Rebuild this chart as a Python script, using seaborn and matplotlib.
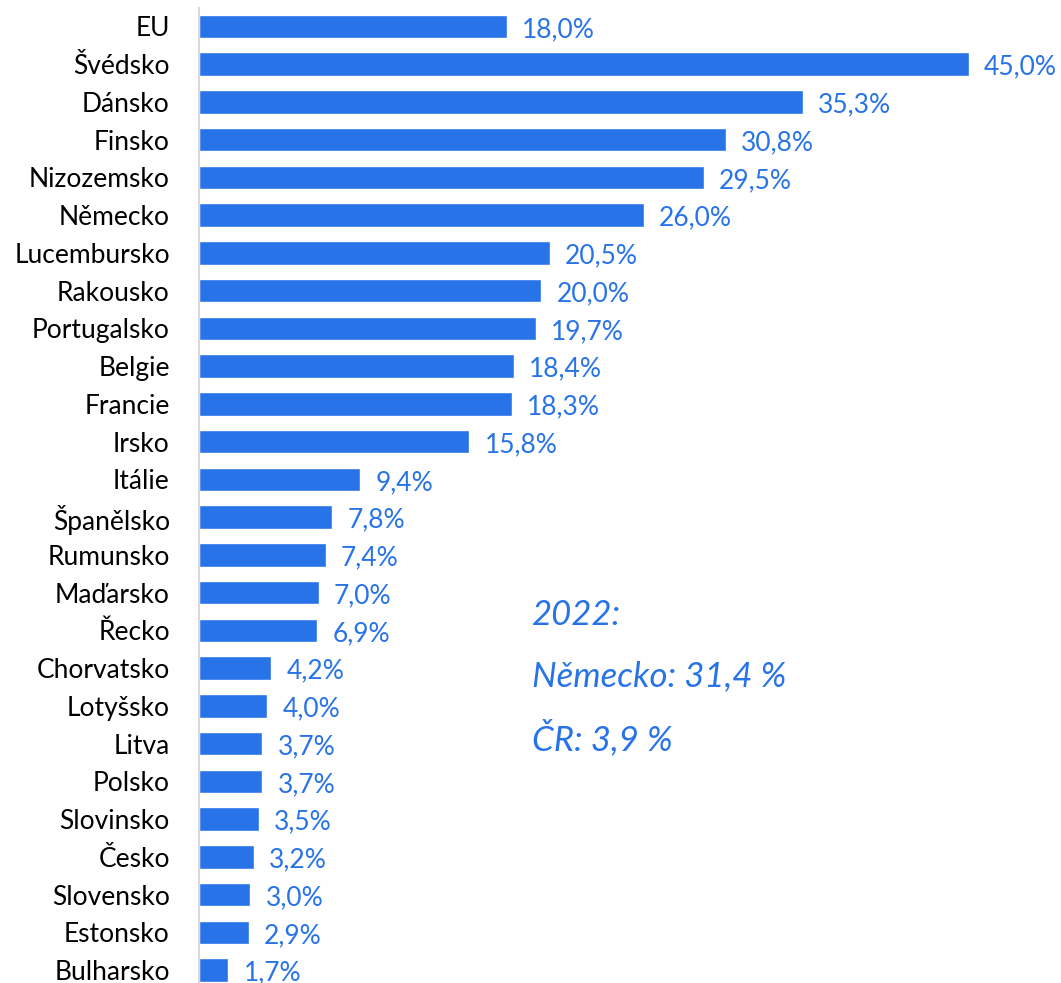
import matplotlib
matplotlib.use('Agg')
import matplotlib.pyplot as plt
import seaborn as sns
import pandas as pd

# data
countries = ['EU', 'Švédsko', 'Dánsko', 'Finsko', 'Nizozemsko', 'Německo', 'Lucembursko',
             'Rakousko', 'Portugalsko', 'Belgie', 'Francie', 'Irsko', 'Itálie', 'Španělsko',
             'Rumunsko', 'Maďarsko', 'Řecko', 'Chorvatsko', 'Lotyšsko', 'Litva', 'Polsko',
             'Slovinsko', 'Česko', 'Slovensko', 'Estonsko', 'Bulharsko']
shares = [18.0, 45.0, 35.3, 30.8, 29.5, 26.0, 20.5, 20.0, 19.7, 18.4, 18.3, 15.8, 9.4,
          7.8, 7.4, 7.0, 6.9, 4.2, 4.0, 3.7, 3.7, 3.5, 3.2, 3.0, 2.9, 1.7]
note_lines = ['2022:', 'Německo: 31,4 %', 'ČR: 3,9 %']

blue = '#2873E8'
df = pd.DataFrame({'country': countries, 'share': shares})

sns.set_style('white')
plt.rcParams['font.family'] = ['Lato', 'DejaVu Sans']

fig = plt.figure(figsize=(10.61, 9.83), dpi=100)
ax = fig.add_axes([199 / 1061, 0, (1061 - 199) / 1061, 1])

sns.barplot(data=df, x='share', y='country', color=blue, width=0.62,
            saturation=1, ax=ax)

ax.set_xlim(0, 50.4)
ax.set_ylim(25.34, -0.70)
ax.set_xlabel('')
ax.set_ylabel('')
ax.set_xticks([])
ax.tick_params(axis='y', length=0, labelsize=19, pad=21, labelcolor='black')
for s in ['top', 'right', 'bottom']:
    ax.spines[s].set_visible(False)
ax.spines['left'].set_color('#d9d9d9')
ax.spines['left'].set_linewidth(1.5)
ax.spines['left'].set_bounds(25.34, -0.49)

for i, v in enumerate(shares):
    ax.text(v + 0.9, i + 0.08, f'{v:.1f}%'.replace('.', ','), va='center', ha='left',
            fontsize=19, color=blue)

for k, line in enumerate(note_lines):
    fig.text(532 / 1061, 1 - (615 + k * 61.5) / 983, line, fontsize=25, style='italic',
             color=blue, va='center', ha='left')

fig.savefig('out.png', dpi=100)
